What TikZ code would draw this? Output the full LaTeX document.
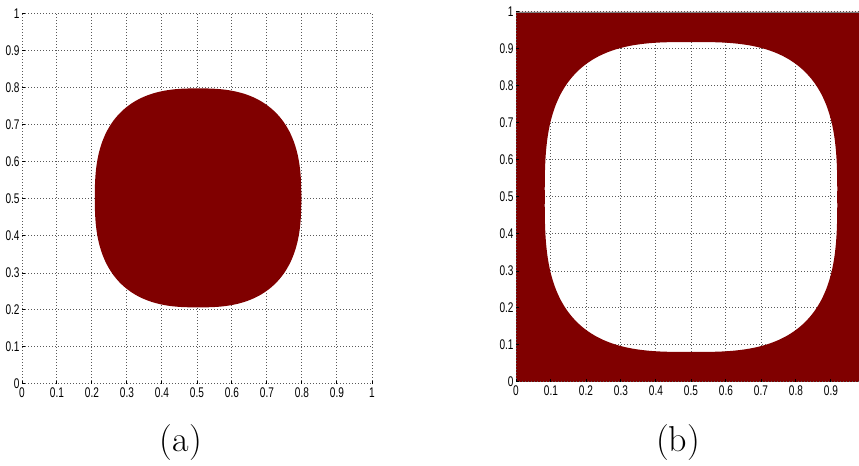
\documentclass[tikz,border=0pt]{standalone}
\usepackage{fontspec}
\usepackage{graphicx}
\newfontfamily\axisfont{Liberation Sans}
\usetikzlibrary{positioning}
\definecolor{darkred}{RGB}{128,0,0}
\newcommand{\ticknum}[1]{\scalebox{0.72}[1]{#1}}

\begin{document}
\begin{tikzpicture}[x=0.5pt,y=0.5pt,
    gridline/.style={black!65, dash pattern=on 0.5pt off 1pt, line width=0.5pt},
    tickmark/.style={black, line width=0.5pt},
    ticklabel/.style={inner sep=0pt, font=\axisfont\fontsize{7}{8}\selectfont},
    caption/.style={inner sep=0pt, font=\fontsize{18}{20}\selectfont}]
  \useasboundingbox (0,0) rectangle (859,466);
  \clip (0,0) rectangle (859,466);

  % Plot (a): solid blob
  \begin{scope}[shift={(22,82)}, x=175pt, y=185pt]
    \foreach \i in {0,...,10} {
      \draw[gridline] (\i/10,0) -- (\i/10,1);
      \draw[gridline] (0,\i/10) -- (1,\i/10);
      \draw[tickmark] (\i/10,0) -- ++(0,1.5pt);
      \draw[tickmark] (0,\i/10) -- ++(1.5pt,0);
    }
    \fill[darkred] plot[domain=1:361, samples=181, smooth]
      ({0.503+0.295*cos(\x)/(pow(abs(cos(\x)),2.6)+pow(abs(sin(\x)),2.6))^(1/2.6)},
       {0.503+0.296*sin(\x)/(pow(abs(cos(\x)),2.6)+pow(abs(sin(\x)),2.6))^(1/2.6)}) -- cycle;
    \foreach \v/\t in {0/0, 1/0.1, 2/0.2, 3/0.3, 4/0.4, 5/0.5, 6/0.6, 7/0.7, 8/0.8, 9/0.9, 10/1} {
      \node[ticklabel, anchor=east] (ya\v) at ([xshift=-1pt]0,\v/10) {\ticknum{\t}};
      \node[ticklabel, anchor=north] (xa\v) at ([yshift=-1.5pt]\v/10,0) {\ticknum{\t}};
    }
  \end{scope}

  % Plot (b): hole in a filled square
  \begin{scope}[shift={(516,84)}, x=175pt, y=185pt]
    \foreach \i in {0,...,10} {
      \draw[gridline] (\i/10,0) -- (\i/10,1);
      \draw[gridline] (0,\i/10) -- (1,\i/10);
    }
    \fill[darkred, even odd rule] (0,0) rectangle (1,1)
      plot[domain=1:361, samples=181, smooth]
      ({0.5+0.418*cos(\x)/(pow(abs(cos(\x)),3)+pow(abs(sin(\x)),3))^(1/3)},
       {0.5+0.419*sin(\x)/(pow(abs(cos(\x)),3)+pow(abs(sin(\x)),3))^(1/3)}) -- cycle;
    \draw[gridline] (0,0) -- (0,1);
    \draw[gridline] (0,0) -- (1,0);
    \draw[black!50, line width=0.3pt] (0,1) -- (1,1);
    \foreach \i in {0,...,10} {
      \draw[tickmark] (\i/10,0) -- ++(0,1.5pt);
      \draw[tickmark] (0,\i/10) -- ++(1.5pt,0);
    }
    \foreach \v/\t in {0/0, 1/0.1, 2/0.2, 3/0.3, 4/0.4, 5/0.5, 6/0.6, 7/0.7, 8/0.8, 9/0.9, 10/1}
      \node[ticklabel, anchor=east] (yb\v) at ([xshift=-1pt]0,\v/10) {\ticknum{\t}};
    \foreach \v/\t in {0/0, 1/0.1, 2/0.2, 3/0.3, 4/0.4, 5/0.5, 6/0.6, 7/0.7, 8/0.8, 9/0.9}
      \node[ticklabel, anchor=north] (xb\v) at ([yshift=-1.5pt]\v/10,0) {\ticknum{\t}};
  \end{scope}

  % captions
  \node[caption] (capa) at (181,23) {(a)};
  \node[caption] (capb) at (678,23) {(b)};
\end{tikzpicture}
\end{document}
